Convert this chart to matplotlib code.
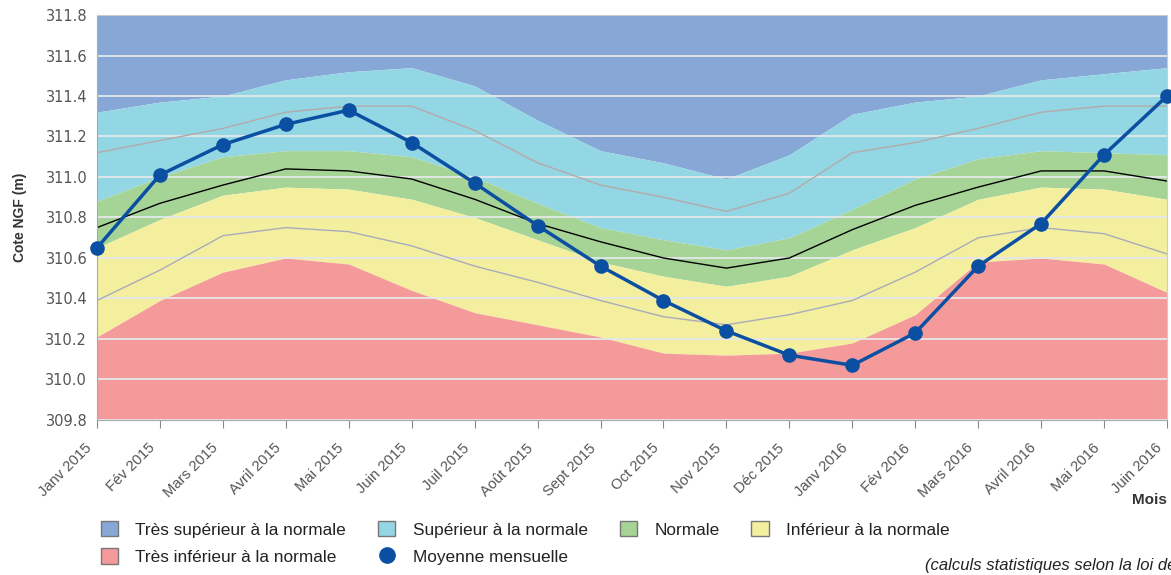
import matplotlib
matplotlib.use("Agg")
import matplotlib.pyplot as plt
import matplotlib.transforms as mtransforms
from matplotlib.patches import Patch
from matplotlib.lines import Line2D

plt.rcParams['font.family'] = ['Liberation Sans', 'DejaVu Sans']

mois = ["Janv 2015", "Fév 2015", "Mars 2015", "Avril 2015", "Mai 2015", "Juin 2015",
        "Juil 2015", "Août 2015", "Sept 2015", "Oct 2015", "Nov 2015", "Déc 2015",
        "Janv 2016", "Fév 2016", "Mars 2016", "Avril 2016", "Mai 2016", "Juin 2016"]

# limites des classes (m NGF)
lim_tres_sup = [311.32, 311.37, 311.40, 311.48, 311.52, 311.54, 311.45, 311.28, 311.13,
                311.07, 310.99, 311.11, 311.31, 311.37, 311.40, 311.48, 311.51, 311.54]
lim_sup = [310.88, 311.00, 311.10, 311.13, 311.13, 311.10, 311.00, 310.87, 310.75,
           310.69, 310.64, 310.70, 310.84, 310.99, 311.09, 311.13, 311.12, 311.11]
lim_inf = [310.65, 310.79, 310.91, 310.95, 310.94, 310.89, 310.80, 310.69, 310.58,
           310.51, 310.46, 310.51, 310.64, 310.75, 310.89, 310.95, 310.94, 310.89]
lim_tres_inf = [310.21, 310.39, 310.53, 310.60, 310.57, 310.44, 310.33, 310.27, 310.21,
                310.13, 310.12, 310.13, 310.18, 310.32, 310.58, 310.60, 310.57, 310.43]
mediane = [310.75, 310.87, 310.96, 311.04, 311.03, 310.99, 310.89, 310.77, 310.68,
           310.60, 310.55, 310.60, 310.74, 310.86, 310.95, 311.03, 311.03, 310.98]
quantile_haut = [311.12, 311.18, 311.24, 311.32, 311.35, 311.35, 311.23, 311.07, 310.96,
                 310.90, 310.83, 310.92, 311.12, 311.17, 311.24, 311.32, 311.35, 311.35]
quantile_bas = [310.39, 310.54, 310.71, 310.75, 310.73, 310.66, 310.56, 310.48, 310.39,
                310.31, 310.27, 310.32, 310.39, 310.53, 310.70, 310.75, 310.72, 310.62]
moyenne = [310.65, 311.01, 311.16, 311.26, 311.33, 311.17, 310.97, 310.76, 310.56,
           310.39, 310.24, 310.12, 310.07, 310.23, 310.56, 310.77, 311.11, 311.40]

y_min, y_max = 309.8, 311.8
x = list(range(len(mois)))

c_tres_sup = '#87a7d6'
c_sup = '#93d6e4'
c_norm = '#a6d497'
c_inf = '#f3ef9f'
c_tres_inf = '#f49a9a'
c_moy = '#0b4fa3'

fig = plt.figure(figsize=(11.71, 5.75), dpi=100)
ax = fig.add_axes([0.0828, 0.2696, 0.9138, 0.7043])

ax.fill_between(x, lim_tres_sup, y_max, color=c_tres_sup, lw=0)
ax.fill_between(x, lim_sup, lim_tres_sup, color=c_sup, lw=0)
ax.fill_between(x, lim_inf, lim_sup, color=c_norm, lw=0)
ax.fill_between(x, lim_tres_inf, lim_inf, color=c_inf, lw=0)
ax.fill_between(x, y_min, lim_tres_inf, color=c_tres_inf, lw=0)

ax.plot(x, quantile_haut, color='#b4aaaa', lw=1, zorder=2)
ax.plot(x, quantile_bas, color='#a9abbb', lw=1, zorder=2)
ax.plot(x, mediane, color='black', lw=1, zorder=2)
ax.plot(x, moyenne, color=c_moy, lw=2.5, marker='o', ms=9.5, zorder=3, clip_on=False)

ax.set_xlim(0, len(mois) - 1)
ax.set_ylim(y_min, y_max)
ax.set_yticks([309.8 + 0.2 * i for i in range(11)])
ax.set_yticklabels(["%.1f" % (309.8 + 0.2 * i) for i in range(11)],
                   family='DejaVu Sans', fontsize=10.5, color='#555555')
ax.set_xticks(x)
ax.set_xticklabels([])

# étiquettes des mois, décalées sous les graduations
decal = mtransforms.ScaledTranslation(-0.12, -0.21, fig.dpi_scale_trans)
for xi, lab in zip(x, mois):
    ax.text(xi, 0, lab, transform=ax.get_xaxis_transform() + decal,
            rotation=45, ha='right', va='top', rotation_mode='anchor',
            fontsize=10.6, color='#555555', clip_on=False)

ax.grid(axis='y', color='#e4e8ea', lw=1.3)
ax.grid(axis='x', visible=False)

ax.tick_params(axis='y', length=0, pad=7)
ax.tick_params(axis='x', length=6, color='#888888', pad=4)
for s in ax.spines.values():
    s.set_color('#cccccc')
ax.spines['left'].set_color('#aaaaaa')
ax.spines['bottom'].set_color('#aaaaaa')

ax.set_ylabel("Cote NGF (m)", fontsize=10, fontweight='bold', color='#333333', labelpad=13)
fig.text(0.982, 0.130, "Mois", fontsize=11, fontweight='bold', color='#333333',
         ha='center', va='center')

handles = [
    Patch(facecolor=c_tres_sup, edgecolor='#777777', label="Très supérieur à la normale"),
    Patch(facecolor=c_tres_inf, edgecolor='#777777', label="Très inférieur à la normale"),
    Patch(facecolor=c_sup, edgecolor='#777777', label="Supérieur à la normale"),
    Line2D([], [], color=c_moy, marker='o', ls='none', ms=11, label="Moyenne mensuelle"),
    Patch(facecolor=c_norm, edgecolor='#777777', label="Normale"),
    Patch(facecolor=c_inf, edgecolor='#777777', label="Inférieur à la normale"),
]
fig.legend(handles=handles, ncol=4, loc='upper left', bbox_to_anchor=(0.073, 0.121),
           frameon=False, fontsize=12.4, handlelength=1.0, handleheight=1.0,
           handletextpad=1.0, columnspacing=1.86, labelspacing=0.62, labelcolor='#222222')

fig.text(0.79, 0.016, "(calculs statistiques selon la loi de Gauss)", fontsize=12,
         style='italic', color='#222222', ha='left', va='center')

fig.savefig("out.png", dpi=100)
